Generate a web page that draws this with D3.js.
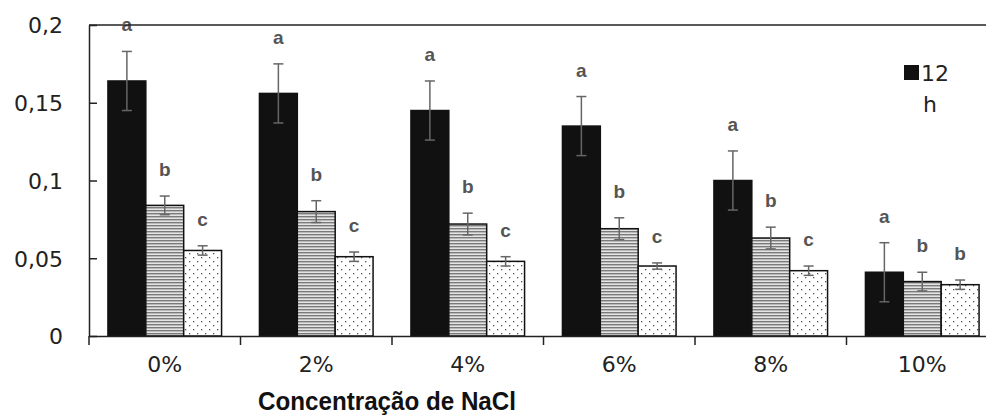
<!DOCTYPE html>
<html>
<head>
<meta charset="utf-8">
<script src="https://cdn.jsdelivr.net/npm/d3@7"></script>
<style>
  body { margin: 0; background: #fff; }
  svg { display: block; }
</style>
</head>
<body>
<div id="chart"></div>
<script>
var width = 986,
    height = 416;

var categories = ["0%", "2%", "4%", "6%", "8%", "10%"];
var seriesNames = ["12 h", "24 h", "48 h"];
var yTicks = [0, 0.05, 0.1, 0.15, 0.2];

// means and error (±) per series, one value per NaCl concentration
var mean12 = [0.164, 0.156, 0.145, 0.135, 0.100, 0.041];
var err12  = [0.019, 0.019, 0.019, 0.019, 0.019, 0.019];
var mean24 = [0.084, 0.080, 0.072, 0.069, 0.063, 0.035];
var err24  = [0.006, 0.007, 0.007, 0.007, 0.007, 0.006];
var mean48 = [0.055, 0.051, 0.048, 0.045, 0.042, 0.033];
var err48  = [0.003, 0.003, 0.003, 0.002, 0.003, 0.003];

var letters12 = ["a", "a", "a", "a", "a", "a"];
var letters24 = ["b", "b", "b", "b", "b", "b"];
var letters48 = ["c", "c", "c", "c", "c", "b"];

var margin = {top: 25, left: 89, bottom: 80, right: -12};

var svg = d3.select("#chart").append("svg")
    .attr("width", width)
    .attr("height", height);

// fill patterns
var defs = svg.append("defs");
var stripes = defs.append("pattern")
    .attr("id", "stripes")
    .attr("patternUnits", "userSpaceOnUse")
    .attr("width", 4).attr("height", 3);
stripes.append("rect").attr("width", 4).attr("height", 3).attr("fill", "#e4e4e4");
stripes.append("rect").attr("y", 0).attr("width", 4).attr("height", 1.4).attr("fill", "#7a7a7a");

var dots = defs.append("pattern")
    .attr("id", "dots")
    .attr("patternUnits", "userSpaceOnUse")
    .attr("width", 8).attr("height", 8);
dots.append("rect").attr("width", 8).attr("height", 8).attr("fill", "#fff");
dots.append("rect").attr("x", 1).attr("y", 1).attr("width", 1.3).attr("height", 1.3).attr("fill", "#555");
dots.append("rect").attr("x", 5).attr("y", 5).attr("width", 1.3).attr("height", 1.3).attr("fill", "#555");

var x0 = d3.scaleBand()
    .domain(categories)
    .range([margin.left, width - margin.right])
    .paddingInner(0.25)
    .paddingOuter(0.125);

var x1 = d3.scaleBand()
    .domain(seriesNames)
    .range([0, x0.bandwidth()]);

var y = d3.scaleLinear()
    .domain([0, 0.2])
    .range([height - margin.bottom, margin.top]);

var fills = ["#111", "url(#stripes)", "url(#dots)"];
var means = [mean12, mean24, mean48];
var errs = [err12, err24, err48];
var letters = [letters12, letters24, letters48];

var rows = [];
seriesNames.forEach(function(s, si) {
  categories.forEach(function(c, ci) {
    rows.push({cat: c, series: s, si: si, v: means[si][ci], e: errs[si][ci], letter: letters[si][ci]});
  });
});

// bars
svg.append("g").selectAll("rect")
    .data(rows)
  .enter().append("rect")
    .attr("x", function(d) { return x0(d.cat) + x1(d.series); })
    .attr("y", function(d) { return y(d.v); })
    .attr("width", x1.bandwidth())
    .attr("height", function(d) { return y(0) - y(d.v); })
    .attr("fill", function(d) { return fills[d.si]; })
    .attr("stroke", "#111")
    .attr("stroke-width", 1.5);

// error bars
var eb = svg.append("g")
    .attr("stroke", "#666")
    .attr("stroke-width", 1.5)
    .selectAll("g")
    .data(rows)
  .enter().append("g")
    .attr("transform", function(d) { return "translate(" + (x0(d.cat) + x1(d.series) + x1.bandwidth() / 2) + ",0)"; });

eb.append("line")
    .attr("y1", function(d) { return y(d.v + d.e); })
    .attr("y2", function(d) { return y(d.v - d.e); });
eb.append("line")
    .attr("x1", -5).attr("x2", 5)
    .attr("y1", function(d) { return y(d.v + d.e); })
    .attr("y2", function(d) { return y(d.v + d.e); });
eb.append("line")
    .attr("x1", -5).attr("x2", 5)
    .attr("y1", function(d) { return y(d.v - d.e); })
    .attr("y2", function(d) { return y(d.v - d.e); });

// significance letters
svg.append("g").selectAll("text")
    .data(rows)
  .enter().append("text")
    .attr("x", function(d) { return x0(d.cat) + x1(d.series) + x1.bandwidth() / 2; })
    .attr("y", function(d) { return y(d.v + d.e) - 20; })
    .attr("text-anchor", "middle")
    .style("font-family", "'Liberation Sans Narrow', 'Liberation Sans', sans-serif")
    .style("font-weight", "bold")
    .style("font-size", "19px")
    .style("fill", "#555")
    .text(function(d) { return d.letter; });

// top border of plot area
svg.append("line")
    .attr("x1", margin.left).attr("x2", width - margin.right)
    .attr("y1", y(0.2)).attr("y2", y(0.2))
    .attr("stroke", "#222").attr("stroke-width", 1.5);

// y axis
var yAxis = svg.append("g")
    .attr("transform", "translate(" + margin.left + ",0)")
    .call(d3.axisLeft(y).tickValues(yTicks).tickSizeInner(-8).tickSizeOuter(0).tickPadding(26)
      .tickFormat(function(d) { return d3.format("")(d).replace(".", ","); }));

// x axis
var xAxis = svg.append("g")
    .attr("transform", "translate(0," + y(0) + ")")
    .call(d3.axisBottom(x0).tickSize(0).tickPadding(20));

// category boundary ticks
svg.append("g").selectAll("line")
    .data(categories)
  .enter().append("line")
    .attr("x1", function(d) { return x0(d) - x0.step() * x0.paddingInner() / 2; })
    .attr("x2", function(d) { return x0(d) - x0.step() * x0.paddingInner() / 2; })
    .attr("y1", y(0)).attr("y2", y(0) + 9)
    .attr("stroke", "#222").attr("stroke-width", 1.5);

[yAxis, xAxis].forEach(function(a) {
  a.select(".domain").attr("stroke", "#222").attr("stroke-width", 1.5);
  a.selectAll(".tick line").attr("stroke", "#222").attr("stroke-width", 1.5);
  a.selectAll("text")
    .style("font-family", "'DejaVu Sans', sans-serif")
    .style("font-size", "22px")
    .style("fill", "#222");
});
yAxis.selectAll("text").attr("dy", "0.36em");

// axis title
svg.append("text")
    .attr("x", 387)
    .attr("y", 410)
    .attr("text-anchor", "middle")
    .attr("textLength", 258)
    .attr("lengthAdjust", "spacingAndGlyphs")
    .style("font-family", "'Liberation Sans Narrow', 'Liberation Sans', sans-serif")
    .style("font-weight", "bold")
    .style("font-size", "26px")
    .style("fill", "#111")
    .text("Concentração de NaCl");

// legend (only the first entry is within the frame)
var legend = svg.append("g").attr("transform", "translate(904,65)");
legend.append("rect")
    .attr("width", 15).attr("height", 15)
    .attr("fill", fills[0]);
var legText = legend.append("text")
    .style("font-family", "'DejaVu Sans', sans-serif")
    .style("font-size", "22px")
    .style("fill", "#222");
var parts = seriesNames[0].split(" ");
legText.append("tspan").attr("x", 17).attr("y", 16).text(parts[0]);
legText.append("tspan").attr("x", 19).attr("y", 47).text(parts[1]);
</script>
</body>
</html>
